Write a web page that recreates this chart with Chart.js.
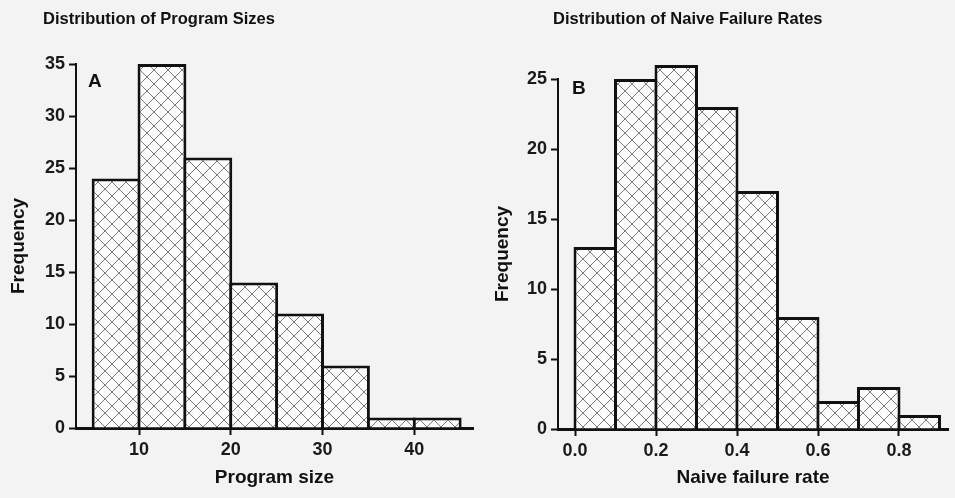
<!DOCTYPE html>
<html><head><meta charset="utf-8">
<script src="https://cdn.jsdelivr.net/npm/chart.js@4.4.0/dist/chart.umd.min.js"></script>
<style>
html,body{margin:0;padding:0;background:#f3f3f3;width:955px;height:498px;overflow:hidden;}
canvas{position:absolute;top:0;}
#cA{left:0}
#cB{left:478px}
</style></head><body>
<canvas id="cA" width="478" height="498"></canvas>
<canvas id="cB" width="477" height="498"></canvas>
<script>
// ---- data ----
const sizeBinCenters = [7.5, 12.5, 17.5, 22.5, 27.5, 32.5, 37.5, 42.5];
const sizeFreq = [24, 35, 26, 14, 11, 6, 1, 1];
const sizeXTicks = [10, 20, 30, 40];
const sizeYTicks = [0, 5, 10, 15, 20, 25, 30, 35];

const rateBinCenters = [0.05, 0.15, 0.25, 0.35, 0.45, 0.55, 0.65, 0.75, 0.85];
const rateFreq = [13, 25, 26, 23, 17, 8, 2, 3, 1];
const rateXTicks = [0, 0.2, 0.4, 0.6, 0.8];
const rateYTicks = [0, 5, 10, 15, 20, 25];

const FONT = '"Liberation Sans", Arial, Helvetica, sans-serif';

function hatch() {
  const n = 14;
  const c = document.createElement('canvas'); c.width = c.height = n;
  const g = c.getContext('2d');
  g.fillStyle = '#fcfcfc'; g.fillRect(0, 0, n, n);
  g.strokeStyle = '#7a7a7a'; g.lineWidth = 1;
  g.beginPath();
  g.moveTo(-2, -2); g.lineTo(n + 2, n + 2);
  g.moveTo(-2, n + 2); g.lineTo(n + 2, -2);
  g.stroke();
  return g.createPattern(c, 'repeat');
}

const textPlugin = {
  id: 'txt',
  afterDraw(chart, args, o) {
    const ctx = chart.ctx;
    ctx.save();
    ctx.fillStyle = '#111';
    ctx.textBaseline = 'middle';
    ctx.textAlign = 'left';
    ctx.font = 'bold 16.5px ' + FONT;
    ctx.fillText(o.title, o.tx, o.ty);
    ctx.font = 'bold 19px ' + FONT;
    ctx.fillText(o.panel, chart.chartArea.left + o.px, chart.chartArea.top + o.py);
    ctx.restore();
  }
};

function makeChart(id, c) {
  const pat = hatch();
  return new Chart(document.getElementById(id), {
    type: 'bar',
    data: {
      datasets: [{
        data: c.x.map((v, i) => ({ x: v, y: c.y[i] })),
        backgroundColor: pat,
        borderColor: '#111',
        borderWidth: 3,
        borderSkipped: 'start',
        barPercentage: 1,
        categoryPercentage: c.catPct,
        clip: false
      }]
    },
    options: {
      responsive: false, animation: false, devicePixelRatio: 1,
      layout: { padding: { left: 0, right: c.padR, top: c.padT, bottom: 0 } },
      plugins: {
        legend: { display: false }, tooltip: { enabled: false }, title: { display: false },
        txt: { title: c.title, tx: c.tx, ty: 19, panel: c.panel, px: c.px, py: c.py }
      },
      scales: {
        x: {
          type: 'linear', min: c.xmin, max: c.xmax, offset: false, z: 1,
          afterBuildTicks: s => { s.ticks = c.xt.map(v => ({ value: v })); },
          afterFit: s => { s.height = c.xh; },
          grid: { display: true, offset: false, drawOnChartArea: false, drawTicks: true, tickLength: 7, tickWidth: 2, tickColor: '#111' },
          border: { display: true, color: '#111', width: 3 },
          ticks: { font: { family: FONT, size: 18, weight: 'bold' }, color: '#1a1a1a', padding: 4, maxRotation: 0, autoSkip: false, callback: c.xfmt },
          title: { display: true, text: c.xtitle, font: { family: FONT, size: 19, weight: 'bold' }, color: '#111', padding: { top: 0, bottom: 8.6 } }
        },
        y: {
          min: 0, max: c.ymax, z: 1,
          afterBuildTicks: s => { s.ticks = c.yt.map(v => ({ value: v })); },
          afterFit: s => { s.width = c.yw; },
          grid: { display: true, drawOnChartArea: false, drawTicks: true, tickLength: 7, tickWidth: 2, tickColor: '#111' },
          border: { display: true, color: '#111', width: 2 },
          ticks: { font: { family: FONT, size: 18, weight: 'bold' }, color: '#1a1a1a', padding: 4, autoSkip: false },
          title: { display: true, text: 'Frequency', font: { family: FONT, size: 19, weight: 'bold' }, color: '#111', padding: { top: c.ytPad, bottom: 0 } }
        }
      }
    },
    plugins: [textPlugin]
  });
}

makeChart('cA', {
  x: sizeBinCenters, y: sizeFreq, xt: sizeXTicks, yt: sizeYTicks,
  xmin: 3.13, xmax: 46.4, ymax: 35, catPct: 1.065,
  padR: 5, padT: 64, xh: 70, yw: 76, ytPad: 7,
  xfmt: v => String(v), xtitle: 'Program size',
  title: 'Distribution of Program Sizes', tx: 43, panel: 'A', px: 12, py: 17.5
});

makeChart('cB', {
  x: rateBinCenters, y: rateFreq, xt: rateXTicks, yt: rateYTicks,
  xmin: -0.042, xmax: 0.921, ymax: 25, catPct: 1.074,
  padR: 7, padT: 79, xh: 69, yw: 80, ytPad: 13.5,
  xfmt: v => Number(v).toFixed(1), xtitle: 'Naive failure rate',
  title: 'Distribution of Naive Failure Rates', tx: 75, panel: 'B', px: 14, py: 9.5
});
</script>
</body></html>
